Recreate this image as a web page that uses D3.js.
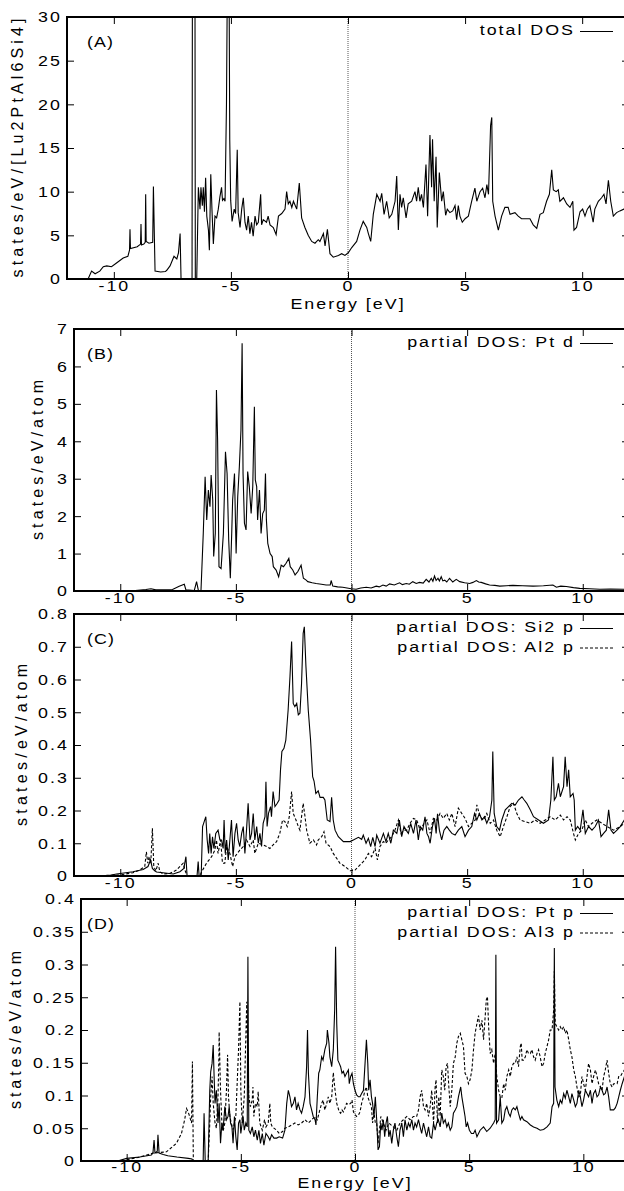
<!DOCTYPE html>
<html>
<head>
<meta charset="utf-8">
<script src="https://cdn.jsdelivr.net/npm/d3@7"></script>
<style>
  body { margin: 0; background: #fff; }
  text { font-family: "Liberation Sans", Arial, Helvetica, sans-serif; fill: #000; }
</style>
</head>
<body>
<svg id="chart"></svg>
<script>
// energy axis ticks, shared by all panels
const energyTicks = [-10, -5, 0, 5, 10];

// y tick labels per panel
const yTicksA = [0, 5, 10, 15, 20, 25, 30];
const yTicksB = [0, 1, 2, 3, 4, 5, 6, 7];
const yTicksC = [0, 0.1, 0.2, 0.3, 0.4, 0.5, 0.6, 0.7, 0.8];
const yTicksD = [0, 0.05, 0.1, 0.15, 0.2, 0.25, 0.3, 0.35, 0.4];

// (A) total DOS  [energy eV, states/eV/f.u.]
const totalDos = [[-11.1,0],[-10.95,0.9],[-10.8,0.6],[-10.6,0.9],[-10.45,1.4],[-10.3,1.5],[-10.1,1.4],[-9.9,1.8],[-9.6,2.4],[-9.4,2.6],[-9.33,3.3],[-9.31,5.7],[-9.29,3.5],[-9.0,3.7],[-8.9,3.9],[-8.86,4.0],[-8.84,6.3],[-8.82,3.9],[-8.72,4.0],[-8.66,4.2],[-8.64,9.7],[-8.62,4.3],[-8.5,4.1],[-8.34,4.2],[-8.31,10.6],[-8.27,5],[-8.24,0.9],[-8.0,0.8],[-7.8,0.85],[-7.74,1.0],[-7.6,1.5],[-7.43,2.6],[-7.31,2.3],[-7.24,3.0],[-7.17,5.2],[-7.13,0],[-6.66,0],[-6.64,45],[-6.54,45],[-6.52,0],[-6.46,0],[-6.39,10.5],[-6.32,8.0],[-6.28,10.5],[-6.22,8.4],[-6.18,10.5],[-6.13,7.7],[-6.08,11.6],[-6.03,7.2],[-5.96,5.6],[-5.92,3.3],[-5.86,12.0],[-5.81,8.0],[-5.75,4.0],[-5.68,7.2],[-5.61,7.0],[-5.54,8.0],[-5.47,9.4],[-5.40,10.5],[-5.36,9.0],[-5.30,9.2],[-5.25,8.9],[-5.19,20],[-5.15,35],[-5.08,35],[-5.05,16],[-5.01,9.0],[-4.95,6.6],[-4.86,8.0],[-4.80,7.5],[-4.73,14.8],[-4.69,7.6],[-4.61,5.9],[-4.54,8.0],[-4.47,9.3],[-4.40,6.5],[-4.33,5.6],[-4.26,7.2],[-4.19,5.2],[-4.12,6.5],[-4.05,4.9],[-3.97,7.2],[-3.90,6.2],[-3.83,6.5],[-3.73,9.7],[-3.69,6.2],[-3.62,6.8],[-3.48,6.5],[-3.41,7.2],[-3.33,6.2],[-3.19,5.9],[-3.07,5.1],[-2.97,7.2],[-2.83,7.5],[-2.69,8.0],[-2.62,10.0],[-2.55,8.6],[-2.48,8.9],[-2.40,8.2],[-2.33,8.9],[-2.19,8.0],[-2.08,11.0],[-1.98,7.0],[-1.84,5.9],[-1.70,5.0],[-1.55,4.3],[-1.41,4.1],[-1.27,4.5],[-1.20,4.3],[-1.05,5.2],[-0.98,3.8],[-0.88,5.7],[-0.77,2.9],[-0.63,2.5],[-0.41,2.7],[-0.27,2.9],[-0.13,2.7],[0.01,3.0],[0.16,3.6],[0.37,4.3],[0.51,5.6],[0.65,6.6],[0.80,5.9],[0.87,5.2],[0.97,4.3],[1.08,7.4],[1.23,9.7],[1.37,8.9],[1.44,9.8],[1.54,7.4],[1.65,8.9],[1.76,7.0],[1.87,7.4],[2.01,8.9],[2.08,11.8],[2.15,5.6],[2.22,9.7],[2.29,8.2],[2.36,9.3],[2.48,7.0],[2.57,8.6],[2.72,8.9],[2.86,10.0],[2.93,8.9],[3.00,10.5],[3.07,8.9],[3.14,9.7],[3.22,8.2],[3.33,13.1],[3.40,7.2],[3.50,16.5],[3.57,10.5],[3.61,16.0],[3.68,8.9],[3.76,14.0],[3.81,5.9],[3.90,12.2],[4.00,8.9],[4.07,10.0],[4.17,7.3],[4.24,8.0],[4.35,7.6],[4.47,7.8],[4.57,8.4],[4.64,6.8],[4.71,8.4],[4.78,7.2],[4.88,6.5],[5.00,6.9],[5.14,7.2],[5.28,8.9],[5.42,10.4],[5.50,8.9],[5.64,10.0],[5.75,10.4],[5.85,9.3],[5.93,10.8],[6.00,9.7],[6.09,17.6],[6.14,18.5],[6.18,8.9],[6.28,7.2],[6.42,5.6],[6.56,7.2],[6.70,8.2],[6.84,8.2],[6.92,7.4],[7.13,7.6],[7.27,7.2],[7.41,6.9],[7.63,6.9],[7.77,6.9],[7.91,6.2],[8.06,5.8],[8.20,7.4],[8.34,7.6],[8.48,8.9],[8.60,9.7],[8.70,12.5],[8.77,10.2],[8.89,10.0],[8.98,10.2],[9.05,8.9],[9.20,9.3],[9.34,8.6],[9.48,8.2],[9.60,8.9],[9.65,5.6],[9.76,5.9],[9.91,7.7],[10.02,8.0],[10.12,7.2],[10.22,8.0],[10.33,8.4],[10.47,6.5],[10.54,8.0],[10.69,8.9],[10.83,9.3],[10.93,9.7],[11.02,8.6],[11.12,11.3],[11.22,8.9],[11.33,7.2],[11.47,7.6],[11.61,7.8],[11.78,8.0],[12,8.2]];

// (B) partial DOS Pt d
const ptD = [[-12,0],[-9.47,0.005],[-8.89,0.04],[-8.67,0.06],[-8.46,0.03],[-7.74,0.04],[-7.45,0.13],[-7.23,0.18],[-7.16,0.03],[-6.80,0.01],[-6.70,0.25],[-6.62,0.01],[-6.51,0],[-6.41,1.54],[-6.33,3.05],[-6.26,1.9],[-6.19,2.7],[-6.12,2.25],[-6.07,3.1],[-6.00,2.43],[-5.96,0.92],[-5.89,1.54],[-5.84,5.37],[-5.79,4.03],[-5.73,0.65],[-5.64,0.6],[-5.54,1.54],[-5.45,3.72],[-5.38,3.14],[-5.31,1.36],[-5.24,0.34],[-5.18,1.54],[-5.14,2.43],[-5.06,3.14],[-4.99,1.0],[-4.92,2.52],[-4.85,3.32],[-4.78,4.3],[-4.73,6.62],[-4.69,3.14],[-4.63,1.81],[-4.56,1.63],[-4.49,3.19],[-4.42,2.79],[-4.34,2.07],[-4.27,2.79],[-4.20,4.92],[-4.16,2.97],[-4.10,2.79],[-4.06,1.9],[-3.98,2.7],[-3.91,1.54],[-3.84,2.07],[-3.77,2.16],[-3.72,3.14],[-3.68,1.9],[-3.62,1.27],[-3.52,1.0],[-3.43,0.92],[-3.38,0.65],[-3.26,0.56],[-3.15,0.38],[-3.04,0.69],[-2.94,0.65],[-2.83,0.74],[-2.71,0.87],[-2.65,0.65],[-2.54,0.56],[-2.44,0.43],[-2.32,0.52],[-2.18,0.69],[-2.08,0.34],[-1.96,0.29],[-1.89,0.25],[-1.70,0.22],[-1.53,0.2],[-1.30,0.18],[-1.10,0.16],[-0.92,0.16],[-0.88,0.28],[-0.81,0.13],[-0.6,0.11],[-0.38,0.10],[-0.01,0.06],[0.20,0.045],[0.4,0.08],[0.64,0.10],[0.85,0.08],[1.07,0.13],[1.2,0.11],[1.36,0.16],[1.5,0.13],[1.65,0.19],[1.85,0.16],[2.08,0.22],[2.2,0.17],[2.37,0.20],[2.5,0.18],[2.65,0.25],[2.8,0.2],[2.94,0.23],[3.1,0.21],[3.23,0.31],[3.35,0.24],[3.45,0.34],[3.52,0.26],[3.59,0.40],[3.66,0.28],[3.74,0.34],[3.8,0.27],[3.88,0.38],[3.95,0.27],[4.03,0.29],[4.12,0.24],[4.24,0.34],[4.38,0.24],[4.53,0.31],[4.68,0.25],[4.89,0.22],[5.11,0.20],[5.25,0.23],[5.40,0.28],[5.5,0.24],[5.61,0.23],[5.8,0.19],[5.97,0.16],[6.2,0.15],[6.41,0.13],[6.7,0.14],[6.98,0.15],[7.4,0.14],[7.85,0.13],[8.3,0.14],[8.71,0.16],[8.86,0.10],[9.05,0.13],[9.29,0.12],[9.6,0.09],[9.87,0.07],[10.3,0.06],[10.74,0.045],[11.2,0.05],[11.77,0.045],[12,0.04]];

// (C) partial DOS Si2 p and Al2 p
const si2P = [[-10.6,0],[-10.16,0.006],[-9.45,0.013],[-9.01,0.02],[-8.80,0.029],[-8.69,0.049],[-8.61,0.023],[-8.51,0.016],[-8.43,0.012],[-8.15,0.01],[-7.71,0.006],[-7.42,0.013],[-7.25,0.023],[-7.16,0.059],[-7.11,0],[-6.68,0],[-6.63,0.044],[-6.59,0],[-6.50,0],[-6.44,0.151],[-6.37,0.166],[-6.30,0.181],[-6.24,0.11],[-6.18,0.069],[-6.13,0.13],[-6.07,0.069],[-6.01,0.12],[-5.95,0.084],[-5.87,0.13],[-5.77,0.14],[-5.69,0.11],[-5.62,0.11],[-5.55,0.084],[-5.51,0.171],[-5.46,0.069],[-5.40,0.11],[-5.33,0.049],[-5.26,0.11],[-5.19,0.171],[-5.12,0.059],[-5.04,0.13],[-4.97,0.161],[-4.90,0.11],[-4.83,0.09],[-4.75,0.13],[-4.68,0.151],[-4.61,0.069],[-4.54,0.14],[-4.47,0.222],[-4.39,0.11],[-4.32,0.13],[-4.25,0.191],[-4.18,0.11],[-4.10,0.151],[-4.03,0.10],[-3.96,0.13],[-3.89,0.09],[-3.82,0.161],[-3.74,0.181],[-3.70,0.288],[-3.65,0.151],[-3.59,0.191],[-3.50,0.212],[-3.46,0.181],[-3.39,0.258],[-3.31,0.212],[-3.21,0.222],[-3.13,0.232],[-3.07,0.324],[-3.01,0.38],[-2.92,0.39],[-2.84,0.415],[-2.74,0.507],[-2.66,0.609],[-2.59,0.716],[-2.52,0.527],[-2.45,0.517],[-2.37,0.527],[-2.30,0.492],[-2.23,0.497],[-2.16,0.588],[-2.09,0.741],[-2.04,0.761],[-1.97,0.64],[-1.87,0.507],[-1.77,0.415],[-1.68,0.303],[-1.62,0.29],[-1.54,0.252],[-1.44,0.26],[-1.36,0.24],[-1.22,0.24],[-1.15,0.232],[-1.05,0.171],[-0.93,0.166],[-0.86,0.24],[-0.79,0.171],[-0.71,0.14],[-0.57,0.12],[-0.35,0.105],[-0.06,0.105],[0.08,0.11],[0.30,0.118],[0.44,0.112],[0.51,0.125],[0.63,0.10],[0.73,0.115],[0.83,0.09],[0.92,0.118],[1.02,0.09],[1.09,0.125],[1.23,0.10],[1.38,0.13],[1.49,0.105],[1.59,0.13],[1.70,0.10],[1.81,0.14],[1.96,0.13],[2.07,0.171],[2.17,0.12],[2.27,0.151],[2.36,0.14],[2.46,0.13],[2.56,0.161],[2.68,0.13],[2.79,0.171],[2.89,0.11],[2.97,0.151],[3.08,0.14],[3.18,0.181],[3.26,0.13],[3.33,0.12],[3.40,0.10],[3.50,0.151],[3.59,0.176],[3.66,0.13],[3.72,0.19],[3.80,0.14],[3.90,0.11],[4.00,0.14],[4.12,0.151],[4.23,0.14],[4.34,0.13],[4.48,0.125],[4.62,0.14],[4.77,0.151],[4.91,0.12],[5.06,0.14],[5.20,0.151],[5.32,0.191],[5.42,0.171],[5.53,0.191],[5.64,0.171],[5.75,0.181],[5.85,0.161],[5.97,0.181],[6.07,0.232],[6.11,0.38],[6.17,0.191],[6.28,0.151],[6.40,0.14],[6.50,0.171],[6.65,0.202],[6.79,0.212],[6.93,0.222],[7.08,0.217],[7.22,0.232],[7.37,0.242],[7.47,0.232],[7.58,0.222],[7.73,0.202],[7.87,0.181],[8.09,0.171],[8.30,0.161],[8.52,0.171],[8.62,0.232],[8.71,0.364],[8.77,0.232],[8.85,0.242],[8.95,0.283],[9.03,0.242],[9.17,0.273],[9.24,0.364],[9.32,0.273],[9.39,0.324],[9.46,0.242],[9.58,0.252],[9.63,0.232],[9.68,0.14],[9.78,0.151],[9.89,0.14],[10.01,0.202],[10.11,0.13],[10.25,0.151],[10.40,0.14],[10.54,0.151],[10.68,0.171],[10.79,0.12],[10.90,0.13],[11.02,0.14],[11.12,0.202],[11.22,0.14],[11.33,0.13],[11.48,0.14],[11.62,0.151],[11.80,0.171],[12,0.18]];

const al2P = [[-10.6,0.002],[-10.02,0.003],[-9.45,0.010],[-9.16,0.018],[-8.94,0.029],[-8.87,0.074],[-8.81,0.039],[-8.75,0.059],[-8.68,0.039],[-8.61,0.146],[-8.55,0.029],[-8.46,0.016],[-8.36,0.039],[-8.29,0.013],[-8.15,0.006],[-7.86,0.008],[-7.57,0.018],[-7.35,0.034],[-7.28,0.039],[-7.19,0.016],[-7.11,0],[-6.56,0],[-6.48,0.013],[-6.27,0.039],[-6.05,0.059],[-5.91,0.079],[-5.84,0.11],[-5.77,0.069],[-5.66,0.11],[-5.58,0.039],[-5.48,0.039],[-5.40,0.09],[-5.26,0.069],[-5.14,0.029],[-5.04,0.059],[-4.94,0.069],[-4.83,0.079],[-4.68,0.09],[-4.54,0.11],[-4.39,0.09],[-4.25,0.11],[-4.18,0.069],[-4.03,0.10],[-3.82,0.095],[-3.67,0.09],[-3.53,0.084],[-3.39,0.095],[-3.24,0.105],[-3.10,0.13],[-2.98,0.171],[-2.88,0.166],[-2.78,0.151],[-2.69,0.181],[-2.59,0.258],[-2.52,0.191],[-2.40,0.171],[-2.30,0.151],[-2.23,0.14],[-2.16,0.181],[-2.09,0.222],[-2.01,0.181],[-1.94,0.14],[-1.87,0.12],[-1.80,0.10],[-1.65,0.11],[-1.51,0.095],[-1.44,0.11],[-1.29,0.12],[-1.19,0.135],[-1.10,0.10],[-0.93,0.09],[-0.79,0.069],[-0.64,0.054],[-0.50,0.039],[-0.28,0.029],[-0.06,0.016],[0.15,0.018],[0.37,0.034],[0.58,0.049],[0.73,0.069],[0.87,0.059],[1.02,0.084],[1.12,0.049],[1.23,0.09],[1.38,0.105],[1.49,0.10],[1.59,0.11],[1.74,0.12],[1.88,0.14],[2.03,0.171],[2.14,0.13],[2.27,0.14],[2.39,0.14],[2.53,0.161],[2.68,0.176],[2.82,0.171],[2.97,0.14],[3.14,0.161],[3.26,0.171],[3.40,0.13],[3.54,0.176],[3.69,0.171],[3.83,0.191],[3.97,0.176],[4.12,0.191],[4.23,0.171],[4.34,0.191],[4.48,0.151],[4.62,0.207],[4.77,0.191],[4.91,0.176],[5.06,0.151],[5.20,0.161],[5.35,0.171],[5.42,0.217],[5.56,0.181],[5.71,0.171],[5.85,0.191],[6.00,0.161],[6.14,0.171],[6.28,0.14],[6.43,0.12],[6.57,0.151],[6.72,0.181],[6.86,0.212],[7.00,0.222],[7.15,0.191],[7.29,0.171],[7.51,0.166],[7.73,0.161],[7.94,0.171],[8.16,0.161],[8.38,0.171],[8.59,0.181],[8.81,0.171],[9.03,0.186],[9.17,0.171],[9.32,0.181],[9.46,0.171],[9.60,0.13],[9.68,0.11],[9.82,0.13],[9.96,0.14],[10.11,0.171],[10.25,0.151],[10.40,0.161],[10.61,0.171],[10.83,0.161],[11.05,0.151],[11.33,0.14],[11.62,0.151],[11.80,0.161],[12,0.165]];

// (D) partial DOS Pt p and Al3 p
const ptP = [[-10.4,0],[-10.0,0.004],[-9.43,0.006],[-8.92,0.009],[-8.85,0.012],[-8.80,0.032],[-8.76,0.012],[-8.66,0.015],[-8.63,0.040],[-8.58,0.012],[-8.4,0.010],[-8.2,0.008],[-7.8,0.006],[-7.3,0.004],[-7.14,0.003],[-7.10,0],[-6.65,0],[-6.61,0.073],[-6.56,0],[-6.43,0],[-6.36,0.108],[-6.32,0.136],[-6.26,0.149],[-6.21,0.177],[-6.17,0.129],[-6.13,0.088],[-6.07,0.108],[-6.00,0.058],[-5.95,0.088],[-5.89,0.027],[-5.83,0.058],[-5.78,0.047],[-5.70,0.083],[-5.63,0.063],[-5.56,0.068],[-5.51,0.083],[-5.45,0.058],[-5.39,0.052],[-5.34,0.027],[-5.28,0.068],[-5.22,0.037],[-5.16,0.017],[-5.10,0.058],[-5.04,0.063],[-5.00,0.042],[-4.94,0.058],[-4.90,0.068],[-4.85,0.047],[-4.78,0.058],[-4.72,0.052],[-4.69,0.312],[-4.65,0.047],[-4.58,0.042],[-4.50,0.052],[-4.43,0.037],[-4.36,0.047],[-4.28,0.032],[-4.21,0.047],[-4.14,0.027],[-4.06,0.042],[-3.99,0.024],[-3.90,0.042],[-3.80,0.037],[-3.73,0.032],[-3.65,0.040],[-3.55,0.035],[-3.43,0.035],[-3.32,0.037],[-3.17,0.035],[-3.07,0.047],[-2.99,0.088],[-2.92,0.108],[-2.85,0.098],[-2.78,0.083],[-2.70,0.088],[-2.63,0.098],[-2.56,0.078],[-2.49,0.088],[-2.41,0.078],[-2.34,0.073],[-2.27,0.083],[-2.19,0.098],[-2.12,0.144],[-2.08,0.200],[-2.04,0.134],[-1.97,0.088],[-1.90,0.078],[-1.83,0.068],[-1.75,0.063],[-1.71,0.055],[-1.65,0.098],[-1.59,0.134],[-1.54,0.139],[-1.46,0.159],[-1.40,0.154],[-1.32,0.170],[-1.24,0.180],[-1.21,0.200],[-1.14,0.180],[-1.10,0.159],[-1.02,0.144],[-0.95,0.170],[-0.89,0.231],[-0.85,0.327],[-0.80,0.210],[-0.75,0.154],[-0.69,0.149],[-0.63,0.144],[-0.57,0.134],[-0.51,0.137],[-0.44,0.129],[-0.37,0.134],[-0.29,0.139],[-0.25,0.118],[-0.19,0.129],[-0.13,0.134],[-0.07,0.118],[0,0.108],[0.07,0.101],[0.15,0.098],[0.22,0.098],[0.29,0.103],[0.37,0.108],[0.44,0.149],[0.50,0.185],[0.56,0.149],[0.60,0.108],[0.66,0.124],[0.72,0.098],[0.77,0.088],[0.83,0.068],[0.89,0.098],[0.95,0.063],[1.01,0.017],[1.07,0.022],[1.13,0.058],[1.18,0.047],[1.24,0.063],[1.30,0.037],[1.36,0.058],[1.42,0.068],[1.48,0.037],[1.54,0.047],[1.61,0.027],[1.68,0.047],[1.75,0.058],[1.83,0.037],[1.90,0.022],[1.97,0.047],[2.05,0.058],[2.12,0.037],[2.19,0.063],[2.27,0.047],[2.34,0.058],[2.41,0.052],[2.49,0.063],[2.56,0.047],[2.63,0.058],[2.70,0.052],[2.78,0.063],[2.85,0.052],[2.92,0.042],[3.00,0.058],[3.07,0.047],[3.14,0.037],[3.22,0.052],[3.29,0.037],[3.36,0.035],[3.44,0.058],[3.51,0.047],[3.58,0.058],[3.65,0.063],[3.73,0.052],[3.80,0.073],[3.87,0.058],[3.95,0.063],[4.02,0.052],[4.09,0.058],[4.17,0.047],[4.24,0.052],[4.31,0.073],[4.39,0.078],[4.46,0.083],[4.53,0.098],[4.63,0.113],[4.68,0.098],[4.75,0.083],[4.82,0.068],[4.87,0.052],[4.93,0.058],[5.01,0.047],[5.10,0.042],[5.19,0.042],[5.26,0.047],[5.34,0.037],[5.48,0.047],[5.63,0.052],[5.77,0.045],[5.92,0.050],[6.07,0.058],[6.14,0.063],[6.17,0.315],[6.20,0.058],[6.29,0.063],[6.36,0.098],[6.43,0.058],[6.51,0.063],[6.58,0.078],[6.65,0.083],[6.73,0.073],[6.80,0.068],[6.87,0.078],[6.94,0.081],[7.02,0.078],[7.09,0.083],[7.16,0.073],[7.24,0.063],[7.31,0.068],[7.38,0.063],[7.53,0.060],[7.68,0.055],[7.82,0.052],[7.97,0.050],[8.11,0.047],[8.26,0.048],[8.41,0.052],[8.55,0.058],[8.63,0.083],[8.70,0.088],[8.73,0.325],[8.76,0.113],[8.84,0.093],[8.92,0.083],[8.99,0.093],[9.06,0.088],[9.14,0.103],[9.21,0.096],[9.28,0.108],[9.36,0.098],[9.43,0.088],[9.50,0.103],[9.58,0.093],[9.65,0.083],[9.72,0.088],[9.80,0.108],[9.87,0.098],[9.94,0.083],[10.01,0.093],[10.09,0.108],[10.16,0.103],[10.23,0.098],[10.31,0.108],[10.38,0.088],[10.45,0.103],[10.53,0.108],[10.60,0.098],[10.67,0.101],[10.75,0.113],[10.82,0.108],[10.89,0.101],[10.96,0.103],[11.04,0.113],[11.11,0.098],[11.18,0.078],[11.26,0.078],[11.33,0.078],[11.40,0.081],[11.48,0.088],[11.55,0.098],[11.62,0.108],[11.70,0.118],[11.80,0.129],[12,0.135]];

const al3P = [[-10.0,0.002],[-9.43,0.006],[-8.85,0.012],[-8.26,0.014],[-7.82,0.027],[-7.60,0.042],[-7.46,0.063],[-7.38,0.080],[-7.31,0.075],[-7.24,0.068],[-7.16,0.058],[-7.12,0.152],[-7.08,0],[-6.43,0],[-6.36,0.058],[-6.32,0.098],[-6.26,0.129],[-6.21,0.088],[-6.13,0.058],[-6.07,0.050],[-6.00,0.098],[-5.96,0.159],[-5.95,0.197],[-5.89,0.108],[-5.83,0.058],[-5.78,0.045],[-5.70,0.058],[-5.63,0.108],[-5.58,0.162],[-5.54,0.098],[-5.48,0.068],[-5.42,0.058],[-5.34,0.048],[-5.22,0.068],[-5.10,0.170],[-5.04,0.243],[-5.00,0.108],[-4.94,0.058],[-4.85,0.098],[-4.74,0.243],[-4.70,0.159],[-4.65,0.098],[-4.58,0.083],[-4.50,0.093],[-4.47,0.113],[-4.43,0.068],[-4.36,0.088],[-4.28,0.083],[-4.24,0.106],[-4.17,0.058],[-4.06,0.047],[-3.96,0.063],[-3.90,0.052],[-3.80,0.058],[-3.73,0.088],[-3.69,0.058],[-3.62,0.052],[-3.43,0.047],[-3.32,0.042],[-3.17,0.045],[-3.07,0.050],[-2.92,0.052],[-2.78,0.055],[-2.63,0.058],[-2.49,0.055],[-2.34,0.058],[-2.19,0.063],[-2.04,0.058],[-1.90,0.063],[-1.75,0.068],[-1.65,0.063],[-1.54,0.078],[-1.46,0.088],[-1.40,0.093],[-1.32,0.078],[-1.24,0.088],[-1.17,0.098],[-1.10,0.088],[-1.02,0.098],[-0.95,0.135],[-0.88,0.110],[-0.80,0.088],[-0.69,0.075],[-0.63,0.073],[-0.57,0.078],[-0.51,0.075],[-0.44,0.081],[-0.37,0.088],[-0.29,0.086],[-0.19,0.088],[-0.13,0.093],[-0.07,0.075],[0,0.071],[0.07,0.068],[0.15,0.070],[0.22,0.075],[0.29,0.088],[0.37,0.098],[0.44,0.108],[0.50,0.113],[0.56,0.098],[0.66,0.088],[0.72,0.083],[0.77,0.058],[0.83,0.075],[0.89,0.058],[0.95,0.058],[1.01,0.027],[1.07,0.047],[1.13,0.068],[1.24,0.058],[1.36,0.047],[1.48,0.058],[1.68,0.052],[1.83,0.047],[1.97,0.058],[2.12,0.063],[2.27,0.068],[2.41,0.063],[2.56,0.068],[2.70,0.068],[2.78,0.078],[2.85,0.098],[2.92,0.108],[3.00,0.083],[3.07,0.078],[3.14,0.088],[3.22,0.068],[3.29,0.083],[3.36,0.108],[3.44,0.058],[3.51,0.113],[3.55,0.124],[3.61,0.058],[3.67,0.098],[3.73,0.068],[3.80,0.139],[3.87,0.129],[3.93,0.108],[3.99,0.144],[4.05,0.149],[4.11,0.113],[4.17,0.083],[4.24,0.108],[4.31,0.149],[4.39,0.159],[4.46,0.180],[4.53,0.190],[4.61,0.195],[4.68,0.185],[4.75,0.175],[4.82,0.134],[4.90,0.129],[4.97,0.118],[5.04,0.124],[5.12,0.139],[5.19,0.170],[5.26,0.195],[5.34,0.210],[5.41,0.222],[5.48,0.200],[5.56,0.215],[5.63,0.185],[5.70,0.220],[5.75,0.246],[5.80,0.251],[5.86,0.200],[5.92,0.164],[5.99,0.170],[6.07,0.149],[6.14,0.164],[6.21,0.129],[6.29,0.108],[6.36,0.098],[6.43,0.096],[6.51,0.118],[6.58,0.108],[6.65,0.129],[6.73,0.139],[6.80,0.129],[6.87,0.144],[6.94,0.149],[7.02,0.149],[7.09,0.159],[7.16,0.144],[7.24,0.175],[7.28,0.180],[7.32,0.154],[7.38,0.154],[7.46,0.159],[7.53,0.170],[7.60,0.164],[7.68,0.164],[7.75,0.170],[7.82,0.159],[7.89,0.154],[7.97,0.164],[8.04,0.170],[8.11,0.159],[8.19,0.144],[8.26,0.149],[8.33,0.164],[8.41,0.175],[8.48,0.185],[8.55,0.200],[8.63,0.200],[8.70,0.230],[8.73,0.290],[8.77,0.210],[8.84,0.205],[8.92,0.200],[8.99,0.205],[9.06,0.200],[9.14,0.205],[9.21,0.195],[9.28,0.200],[9.36,0.185],[9.43,0.170],[9.50,0.159],[9.58,0.139],[9.65,0.129],[9.72,0.113],[9.80,0.098],[9.87,0.101],[9.94,0.129],[10.01,0.118],[10.09,0.108],[10.16,0.129],[10.23,0.149],[10.31,0.139],[10.38,0.118],[10.45,0.129],[10.53,0.139],[10.60,0.129],[10.67,0.118],[10.75,0.113],[10.82,0.108],[10.89,0.129],[10.96,0.139],[11.04,0.154],[11.11,0.134],[11.18,0.118],[11.26,0.113],[11.33,0.118],[11.40,0.118],[11.48,0.118],[11.55,0.129],[11.62,0.129],[11.70,0.134],[11.80,0.139],[12,0.14]];

// layout of the four stacked panels
const W = 624, H = 1191;
const RIGHT = 629;   // right frame falls just outside the picture
const PH = 262;      // plot height
const SX = "scale(1.15,1)"; // wide gnuplot-like lettering
const LS = 1.75;            // letter spacing that goes with it

const panels = [
  { tag: "(A)", left: 67, top: 17, yMax: 30, yTicks: yTicksA, yLabel: "states/eV/[Lu2PtAl6Si4]", labelX: 23, labelLen: 259, titleDy: 30, xPad: 1,
    series: [{ data: totalDos, name: "total DOS", dashed: false }] },
  { tag: "(B)", left: 74, top: 329, yMax: 7, yTicks: yTicksB, yLabel: "states/eV/atom", labelX: 43, labelLen: 160, titleDy: null, xPad: 1,
    series: [{ data: ptD, name: "partial DOS: Pt d", dashed: false }] },
  { tag: "(C)", left: 74, top: 614, yMax: 0.8, yTicks: yTicksC, yLabel: "states/eV/atom", labelX: 27, labelLen: 162, titleDy: null, xPad: 1,
    series: [{ data: si2P, name: "partial DOS: Si2 p", dashed: false }, { data: al2P, name: "partial DOS: Al2 p", dashed: true }] },
  { tag: "(D)", left: 81, top: 899, yMax: 0.4, yTicks: yTicksD, yLabel: "states/eV/atom", labelX: 21, labelLen: 158, titleDy: 26.5, xPad: 0,
    series: [{ data: ptP, name: "partial DOS: Pt p", dashed: false }, { data: al3P, name: "partial DOS: Al3 p", dashed: true }] }
];

const svg = d3.select("#chart").attr("width", W).attr("height", H);
svg.append("rect").attr("width", W).attr("height", H).attr("fill", "#fff");
const defs = svg.append("defs");
const fmt = d => String(+d.toFixed(2));

panels.forEach((p, i) => {
  const bottom = p.top + PH;
  const x = d3.scaleLinear().domain([-12, 12]).range([p.left, RIGHT]);
  const y = d3.scaleLinear().domain([0, p.yMax]).range([bottom, p.top]);
  const g = svg.append("g");

  defs.append("clipPath").attr("id", "clip" + i)
    .append("rect").attr("x", p.left).attr("y", p.top).attr("width", RIGHT - p.left).attr("height", PH);

  // Fermi level
  g.append("line").attr("x1", x(0)).attr("x2", x(0)).attr("y1", p.top).attr("y2", bottom)
    .attr("stroke", "#555").attr("stroke-width", 1).attr("stroke-dasharray", "1,1");

  const line = d3.line().x(d => x(d[0])).y(d => y(d[1]));
  p.series.forEach(s => {
    g.append("path").attr("d", line(s.data)).attr("clip-path", `url(#clip${i})`)
      .attr("fill", "none").attr("stroke", "#000").attr("stroke-width", 1.1)
      .attr("stroke-dasharray", s.dashed ? "3,2" : null);
  });

  // axes, ticks pointing inwards on all four sides
  const ax = g.append("g").attr("transform", `translate(0,${bottom})`)
    .call(d3.axisBottom(x).tickValues(energyTicks).tickFormat(d => String(d)).tickSizeInner(-7).tickSizeOuter(0).tickPadding(p.xPad));
  const axTop = g.append("g").attr("transform", `translate(0,${p.top})`)
    .call(d3.axisTop(x).tickValues(energyTicks).tickFormat("").tickSizeInner(-7).tickSizeOuter(0));
  const ay = g.append("g").attr("transform", `translate(${p.left},0)`)
    .call(d3.axisLeft(y).tickValues(p.yTicks).tickFormat(fmt).tickSizeInner(-7).tickSizeOuter(0).tickPadding(4.5));
  const ayR = g.append("g").attr("transform", `translate(${RIGHT},0)`)
    .call(d3.axisRight(y).tickValues(p.yTicks).tickFormat("").tickSizeInner(-7).tickSizeOuter(0));

  [ax, axTop, ay, ayR].forEach(a => {
    a.select(".domain").remove();
    a.selectAll("line").attr("stroke", "#000");
    a.selectAll("text").attr("font-size", 15.5).attr("font-family", null).attr("fill", "#000")
      .attr("letter-spacing", LS).attr("transform", SX);
  });

  // frame
  g.append("rect").attr("x", p.left).attr("y", p.top).attr("width", RIGHT - p.left).attr("height", PH)
    .attr("fill", "none").attr("stroke", "#000").attr("stroke-width", 2);

  // y label, letter spaced
  g.append("text").attr("transform", `translate(${p.labelX},${p.top + PH / 2}) rotate(-90)`)
    .attr("text-anchor", "middle").attr("font-size", 16)
    .attr("textLength", p.labelLen).attr("lengthAdjust", "spacing").text(p.yLabel);

  // panel tag
  g.append("text").attr("transform", `translate(87,${p.top + 30}) ${SX}`).attr("font-size", 15.5)
    .attr("letter-spacing", 1).text(p.tag);

  // legend
  p.series.forEach((s, j) => {
    g.append("text").attr("transform", `translate(575,${p.top + 18 + j * 19.5}) ${SX}`)
      .attr("text-anchor", "end").attr("font-size", 15.5).attr("letter-spacing", LS).text(s.name);
    g.append("line").attr("x1", 580).attr("x2", 613)
      .attr("y1", p.top + 14.5 + j * 19.5).attr("y2", p.top + 14.5 + j * 19.5)
      .attr("stroke", "#000").attr("stroke-width", 1).attr("stroke-dasharray", s.dashed ? "3,2" : null);
  });

  if (p.titleDy) {
    g.append("text").attr("transform", `translate(${x(0)},${bottom + p.titleDy}) ${SX}`)
      .attr("text-anchor", "middle").attr("font-size", 15.5).attr("letter-spacing", LS).text("Energy [eV]");
  }
});
</script>
</body>
</html>
